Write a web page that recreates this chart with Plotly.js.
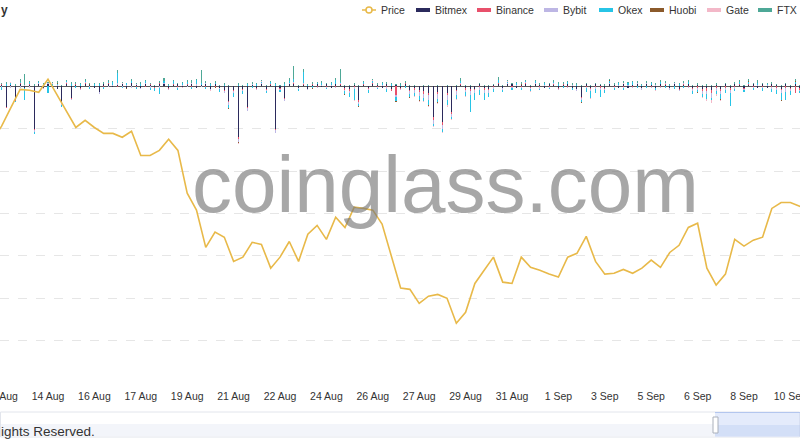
<!DOCTYPE html>
<html><head><meta charset="utf-8">
<script src="https://cdn.plot.ly/plotly-3.0.1.min.js"></script>
<style>html,body{margin:0;padding:0;background:#fff;}#chart{width:800px;height:445px;}</style>
</head><body><div id="chart"></div>
<script>
// ---------- DATA ----------
const priceStart = '2022-08-12 12:00';
const priceStepHours = 8;
const price = [1873,1906,1950,1993,1991,1986,
2017,1978,1939,1903,1920,1903,1889,1889,1880,1894,
1837,1837,1849,1875,1849,1748,1708,1620,1656,1644,
1587,1597,1632,1627,1571,1597,1634,1587,1651,1672,
1639,1691,1667,1715,1712,1708,1675,1601,1524,1521,
1488,1505,1509,1500,1441,1467,1535,1566,1597,1538,
1535,1597,1573,1566,1557,1550,1597,1606,1646,1587,
1557,1559,1568,1559,1571,1590,1573,1608,1625,1667,
1677,1571,1531,1557,1639,1623,1637,1644,1712,1726,
1726,1717,1708];

const barStart = '2022-08-12 20:00';
const barStepHours = 4;
const exchanges = ['Bitmex','Binance','Bybit','Okex','Huobi','Gate','FTX'];
const exchangeColors = ['#2b2a5c','#e8506b','#bdb6e4','#27c4e6','#8b5a2b','#f3b8c8','#4ea897'];

const bitmex = [0.8,-9.9,0.5,-6.6,1.2,-0.8,0.6,-20.2,1.0,-0.6,
0.9,0.4,-1.2,-7.5,1.1,-5.6,0.7,-0.9,1.3,0.5,
-0.7,-2.8,0.9,1.2,-0.5,0.8,1.0,-0.6,1.4,0.6,
-0.8,1.1,0.7,-0.5,1.2,0.9,-1.0,0.6,1.3,-0.4,
0.8,1.1,-0.7,0.5,1.0,-1.2,0.9,-0.8,-1.5,-7.0,
-1.8,-24.0,-1.2,-9.9,0.6,-0.9,1.0,-1.3,0.7,-20.2,
-0.8,-5.6,0.9,1.2,-0.6,0.8,-1.1,0.7,1.0,-0.5,
0.9,-0.8,1.2,0.6,-1.0,-1.4,0.8,-6.6,0.7,-0.9,
1.1,0.6,-0.8,1.0,-1.2,0.7,-0.6,1.2,-1.5,-0.9,
-1.8,-2.2,-3.0,-14.6,-2.5,-17.0,-3.0,-12.2,-1.6,0.8,
-1.0,-1.4,-1.2,0.9,-0.8,-1.3,0.7,1.1,-0.6,0.9,
1.0,-0.7,0.8,1.3,-0.5,0.9,0.6,-0.8,1.0,0.7,
-0.9,0.8,1.2,-0.6,-1.1,-5.2,0.9,-0.7,1.0,0.6,
-0.8,1.1,0.7,-0.9,1.2,-0.6,0.8,1.0,-0.7,0.9,
0.6,-1.0,1.1,0.8,-0.6,0.9,-1.2,0.7,1.0,-0.8,
0.6,-1.3,-1.0,-1.6,0.8,-1.2,0.9,-0.8,1.1,0.7,
-0.9,0.8,1.2,-0.6,0.9,-0.8,1.0,0.7,-1.1,1.2,
-0.8,0.9,-1.0];

const binance = [0.3,-0.4,0.2,-0.3,0.4,-0.2,0.3,-0.5,0.2,-0.3,
0.2,-0.3,0.4,-0.2,0.3,-0.4,0.2,-0.3,0.2,0.3,
-0.2,0.3,-0.4,0.2,0.3,-0.3,0.2,-0.2,0.4,-0.3,
0.3,-0.2,0.2,-0.4,0.3,0.2,-0.3,0.4,-0.2,0.3,
0.2,-0.3,0.4,0.3,-0.2,0.3,-0.4,0.2,-0.5,-0.6,
-0.4,-0.8,-0.3,-0.5,0.2,-0.3,0.3,-0.2,0.2,-0.6,
-0.3,-0.4,0.3,0.4,-0.2,0.3,-0.3,0.2,-0.4,0.3,
-0.2,0.3,-0.3,0.4,-0.5,-0.6,-0.4,-0.7,0.2,-0.3,
0.3,-0.2,0.4,-0.5,-1.0,-4.2,-0.6,0.3,-0.8,-0.9,
-1.0,-1.2,-0.9,-1.4,-1.1,-1.3,-1.0,-0.9,-0.8,0.3,
-0.6,-0.9,-0.7,-0.5,-0.8,-0.6,-0.4,0.3,-0.3,0.2,
-0.3,0.2,-0.2,0.3,-0.3,0.2,-0.4,0.3,-0.2,0.2,
-0.3,0.2,-0.4,0.3,-0.2,-0.5,-0.4,-0.6,-0.5,-0.7,
-0.3,0.2,-0.3,0.2,-0.4,0.3,-0.2,0.2,-0.3,0.3,
-0.2,0.3,-0.3,0.2,-0.4,0.2,-0.3,0.3,-0.2,-0.5,
-0.6,-0.8,-1.0,-1.5,-0.7,-0.9,-0.6,-0.8,-0.4,0.2,
-0.3,0.2,-0.4,0.3,-0.3,0.2,-0.5,-0.6,-0.8,-1.0,
-0.6,-3.0,-0.5];

const bybit = [-0.5,0.4,-0.8,0.3,-0.6,0.5,-0.4,-1.0,0.3,-0.5,
0.4,-0.6,0.3,-0.9,0.5,-0.4,0.3,-0.7,0.4,-0.5,
0.3,-0.6,0.4,-0.5,0.3,0.6,-0.4,0.5,-0.7,0.3,
-0.5,0.4,-0.6,0.3,-0.8,0.5,-0.4,0.3,-0.6,0.4,
-0.5,0.3,0.5,-0.4,0.6,-0.7,0.3,-0.5,-0.9,-1.2,
-1.0,-1.5,-0.8,-1.1,0.4,-0.6,0.3,-0.5,0.4,-1.0,
-0.7,-0.9,0.4,0.5,-0.6,0.3,-0.5,0.4,-0.6,0.3,
-0.4,0.5,-0.5,0.4,-0.7,-0.9,-0.8,-1.0,0.3,-0.6,
0.4,-0.5,0.3,-0.7,0.4,-0.9,-0.6,0.3,-1.2,-1.5,
-1.8,-2.0,-2.5,-1.6,-2.2,-1.8,-2.4,-1.5,-1.9,0.5,
-1.2,-1.6,-1.4,-1.0,-1.5,-1.2,-0.8,0.4,-0.6,0.3,
-0.5,0.4,-0.6,0.3,-0.5,0.4,-0.7,0.3,-0.4,0.5,
-0.6,0.3,-0.5,0.4,-0.7,-0.9,-0.6,-1.0,-0.8,-1.1,
-0.6,0.4,-0.5,0.3,-0.6,0.4,-0.5,0.3,-0.7,0.4,
-0.5,0.3,-0.6,0.4,-0.5,0.3,-0.8,0.4,-0.6,-0.9,
-1.1,-1.4,-1.8,-2.2,-1.3,-1.6,-1.0,-1.4,-0.8,0.4,
-0.6,0.3,-0.5,0.4,-0.7,0.3,-0.6,-0.9,-1.2,-1.5,
-0.8,0.4,-0.6];

const okex = [-1.2,0.6,0.9,-0.5,0.7,-5.2,1.0,-0.8,0.5,1.2,
-3.3,0.8,0.6,-0.9,0.7,1.1,-0.6,0.9,0.5,-0.7,
1.0,0.6,-0.8,0.7,1.3,4.7,-0.6,0.9,0.8,-1.0,
0.7,1.2,-0.9,-1.4,-2.8,0.8,0.6,1.1,-0.7,0.9,
1.3,-0.8,2.0,0.7,-1.0,0.9,0.6,-1.2,0.8,-1.5,
-2.0,0.7,-1.3,0.9,-0.8,1.1,0.6,-0.9,0.8,1.0,
-0.7,1.2,0.9,1.5,-0.6,5.2,0.8,-1.0,0.7,1.1,
-0.8,0.9,1.6,0.7,-1.5,-2.0,-5.2,-1.0,0.8,-1.2,
0.9,-0.7,1.0,-1.4,0.6,-1.8,0.8,-0.9,-1.6,-1.2,
-2.0,-1.5,-2.4,-1.1,-1.8,-1.4,-2.2,-1.0,-1.6,0.9,
-1.8,-8.0,-3.0,-2.5,-3.5,-2.0,-1.4,1.2,-1.0,0.8,
-0.9,1.0,-0.7,0.8,-1.1,0.9,-0.6,1.0,-0.8,0.7,
1.1,-0.9,0.8,-1.2,0.7,-1.0,-1.5,-3.0,-2.0,-3.2,
-1.6,0.9,-0.8,1.0,-0.7,0.8,1.1,-0.9,0.7,-1.0,
0.9,-0.8,1.2,-0.6,0.8,-1.1,0.9,-0.7,1.0,-1.3,
-1.0,-1.5,-2.0,-1.2,-1.8,-2.4,-1.5,-6.1,-1.2,0.8,
-0.9,1.0,-0.7,0.9,-1.2,0.8,-1.6,-2.0,-3.5,-4.0,
-1.8,0.9,-1.2];

const huobi = [0,0.2,0,0,-0.2,0,0,0.3,0,0,
0,0,0.2,0,0,0,-0.2,0,0,0.2,
0,0,0,0.2,0,0,0,-0.3,0,0,
0.2,0,0,0,0,0.2,0,0,-0.2,0,
0,0.2,0,0,0,0,-0.2,0,0,-0.3,
0,-0.4,0,0,0,0.2,0,0,0,-0.3,
0,0,0.2,0,0,0,0,-0.2,0,0,
0.2,0,0,0,-0.2,0,0,-0.3,0,0,
0,0.2,0,0,0,-0.3,0,0,-0.2,0,
-0.3,0,-0.4,0,-0.3,0,-0.4,0,-0.2,0,
0,-0.3,0,-0.2,0,0,0,0.2,0,0,
0,0,0.2,0,0,0,-0.2,0,0,0,
0.2,0,0,0,0,-0.2,0,-0.3,0,0,
0,0.2,0,0,0,0,-0.2,0,0,0.2,
0,0,0,-0.2,0,0,0,0.2,0,0,
-0.2,0,-0.3,0,0,-0.2,0,0,0,0,
0,0.2,0,0,-0.2,0,0,0,-0.3,0,
0,0.2,0];

const gate = [0,0,0.3,0,0,0,-0.3,0,0,0,
0,0.2,0,0,0,-0.2,0,0,0.3,0,
0,0,-0.2,0,0,0,0.2,0,0,0,
0,-0.3,0,0,0.2,0,0,0,0,-0.2,
0,0,0.2,0,0,-0.2,0,0,-0.3,0,
0,-0.3,0,0,0,0,0.2,0,0,0,
-0.2,0,0,0,0,0.2,0,0,0,0,
0,0,0,0.2,0,0,-0.3,0,0,0,
0.2,0,0,0,0,-0.4,0,0,0,-0.3,
-0.5,-0.4,-0.6,-0.3,-0.5,-0.4,-0.6,-0.3,-0.4,0,
-0.3,0,-0.2,0,0,0,0,0,0,0.2,
0,0,0,0,-0.2,0,0,0,0,0,
0,0,0.2,0,0,0,0,-0.3,0,0,
0,0,0,0,0.2,0,0,0,0,0,
0,-0.2,0,0,0,0,0,0,0.2,0,
-0.4,-0.6,-1.0,-1.4,-0.8,-0.5,0,0,0,0,
0,0,0,0.2,0,0,0,-0.3,0,0,
0,0,0];

const ftx = [0.6,1.0,0.4,0.8,1.2,5.2,0.5,0.9,0.7,0.4,
0.8,0.5,1.0,0.6,0.4,0.9,0.7,0.5,0.8,0.6,
0.4,0.9,0.6,0.8,0.5,1.5,0.7,0.4,0.9,0.6,
0.8,0.5,0.7,0.4,0.9,1.2,0.6,0.8,0.5,0.7,
0.9,1.3,0.6,6.1,0.8,0.5,0.7,0.4,0.6,0.5,
0.4,0.8,0.6,0.7,0.9,0.5,0.8,0.6,0.4,0.7,
0.6,0.9,1.2,6.1,0.7,1.4,0.5,0.8,0.6,0.9,
0.7,0.5,1.0,6.1,0.8,0.6,0.9,0.5,0.7,0.4,
0.8,0.6,0.5,0.9,0.7,0.4,0.8,0.6,0.5,0.7,
0.4,0.6,0.5,0.3,0.6,0.4,0.5,0.3,0.7,1.4,
0.5,0.6,0.4,0.7,0.5,0.8,0.6,1.4,0.7,0.5,
0.8,0.6,0.9,0.5,0.7,0.6,0.8,0.4,0.7,0.9,
0.6,0.8,0.5,0.9,0.7,0.6,0.8,0.5,0.7,0.4,
0.9,0.6,0.8,0.5,1.0,0.7,0.6,0.9,0.5,0.8,
0.6,0.9,0.7,1.1,0.5,0.8,0.6,0.9,0.7,0.5,
0.8,0.6,0.9,0.5,0.7,0.4,0.8,0.6,0.9,0.7,
0.5,0.8,0.6,1.0,0.7,0.5,0.9,0.6,0.8,0.5,
0.7,1.1,0.6];

const tickTimes = ['2022-08-12 20:00','2022-08-14 12:00','2022-08-16 04:00','2022-08-17 20:00','2022-08-19 12:00','2022-08-21 04:00','2022-08-22 20:00','2022-08-24 12:00','2022-08-26 04:00','2022-08-27 20:00','2022-08-29 12:00','2022-08-31 04:00','2022-09-01 20:00','2022-09-03 12:00','2022-09-05 04:00','2022-09-06 20:00','2022-09-08 12:00','2022-09-10 04:00'];
const tickLabels = ['12 Aug','14 Aug','16 Aug','17 Aug','19 Aug','21 Aug','22 Aug','24 Aug','26 Aug','27 Aug','29 Aug','31 Aug','1 Sep','3 Sep','5 Sep','6 Sep','8 Sep','10 Sep'];

// ---------- HELPERS ----------
function toMs(s){ return Date.parse(s.replace(' ','T') + ':00Z'); }
function fmt(ms){ return new Date(ms).toISOString().slice(0,19).replace('T',' '); }
function series(start, stepH, n){ const t0 = toMs(start); const out=[]; for(let i=0;i<n;i++) out.push(fmt(t0 + i*stepH*3600e3)); return out; }

const priceTimes = series(priceStart, priceStepHours, price.length);
const barTimes = series(barStart, barStepHours, bitmex.length);
const exchangeData = [bitmex, binance, bybit, okex, huobi, gate, ftx];

// layout geometry
const W = 800, H = 445, PT = 44, PB = 383;
const px = x => x / W;
const py = y => (PB - y) / (PB - PT);
const pxPerHour = 1.16;
const anchorMs = toMs('2022-08-14 12:00'), anchorPx = 48;
const xRange = [fmt(anchorMs - anchorPx/pxPerHour*3600e3), fmt(anchorMs + (W-anchorPx)/pxPerHour*3600e3)];

const FONT = 'Liberation Sans, Arial, Helvetica, sans-serif';
const priceColor = '#e8b949';

const traces = exchanges.map((name, j) => ({
  type: 'bar', name: name, x: barTimes, y: exchangeData[j],
  marker: {color: exchangeColors[j], line: {width: 0}},
  width: 3.2e6, yaxis: 'y', hoverinfo: 'skip', showlegend: false
}));
traces.push({
  type: 'scatter', mode: 'lines', name: 'Price', x: priceTimes, y: price,
  yaxis: 'y2', line: {color: priceColor, width: 1.6}, hoverinfo: 'skip', showlegend: false
});

// manual legend
const legendNames = ['Price'].concat(exchanges);
const legendColors = [priceColor].concat(exchangeColors);
const legendX = [362, 416, 477, 544, 599, 650, 707, 758];
const shapes = [];
const annotations = [];
legendNames.forEach((n, i) => {
  const x = legendX[i];
  if (i === 0) {
    shapes.push({type:'line', xref:'paper', yref:'paper', x0:px(x), x1:px(x+14), y0:py(10), y1:py(10), line:{color:priceColor, width:1.5}});
    shapes.push({type:'circle', xref:'paper', yref:'paper', x0:px(x+4), x1:px(x+10), y0:py(13), y1:py(7), fillcolor:'#fff', line:{color:priceColor, width:1.5}});
  } else {
    shapes.push({type:'rect', xref:'paper', yref:'paper', x0:px(x), x1:px(x+14), y0:py(12), y1:py(8), fillcolor:legendColors[i], line:{width:0}});
  }
  annotations.push({xref:'paper', yref:'paper', x:px(x+17), y:py(10), xanchor:'left', yanchor:'middle', text:n, showarrow:false, font:{family:FONT, size:10.5, color:'#333'}});
});

// visible fragment of the title at the top-left edge
annotations.push({xref:'paper', yref:'paper', x:px(-1), y:py(10), xanchor:'left', yanchor:'middle', text:'<b>y</b>', showarrow:false, font:{family:FONT, size:12, color:'#333'}});

// watermark
annotations.push({xref:'paper', yref:'paper', x:px(445), y:py(184), xanchor:'center', yanchor:'middle', text:'coinglass.com', showarrow:false, font:{family:FONT, size:80, color:'rgba(120,120,120,0.65)'}});

// visible fragment of the copyright line
annotations.push({xref:'paper', yref:'paper', x:px(-1), y:py(431), xanchor:'left', yanchor:'middle', text:'ights Reserved.', showarrow:false, font:{family:FONT, size:13.5, color:'#333'}});

// data zoom slider decoration
shapes.push({type:'rect', xref:'paper', yref:'paper', x0:px(0.5), x1:px(799.5), y0:py(437), y1:py(412), fillcolor:'rgba(0,0,0,0)', line:{color:'#e2e5ec', width:1}, layer:'below'});
shapes.push({type:'rect', xref:'paper', yref:'paper', x0:px(1), x1:px(715), y0:py(436), y1:py(424), fillcolor:'rgba(214,223,240,0.3)', line:{width:0}, layer:'below'});
shapes.push({type:'rect', xref:'paper', yref:'paper', x0:px(715), x1:px(800), y0:py(437), y1:py(412), fillcolor:'rgba(205,218,248,0.55)', line:{width:0}, layer:'below'});
shapes.push({type:'rect', xref:'paper', yref:'paper', x0:px(715), x1:px(800), y0:py(436), y1:py(425), fillcolor:'rgba(180,200,240,0.35)', line:{width:0}, layer:'below'});
shapes.push({type:'line', xref:'paper', yref:'paper', x0:px(715), x1:px(800), y0:py(412.5), y1:py(412.5), line:{color:'#b3c6ee', width:1}});
shapes.push({type:'rect', xref:'paper', yref:'paper', x0:px(713), x1:px(718), y0:py(433), y1:py(417), fillcolor:'#ffffff', line:{color:'#aab0bb', width:1}});

const layout = {
  width: W, height: H, autosize: false,
  margin: {l: 0, r: 0, t: PT, b: H - PB, pad: 0},
  paper_bgcolor: '#fff', plot_bgcolor: '#fff',
  barmode: 'relative', bargap: 0,
  showlegend: false,
  font: {family: FONT, size: 10.5, color: '#333'},
  xaxis: {type: 'date', range: xRange, tickmode: 'array', tickvals: tickTimes, ticktext: tickLabels,
    showgrid: false, zeroline: false, showline: false, ticks: '', ticklen: 0, ticklabelstandoff: 5,
    ticklabeloverflow: 'allow',
    tickfont: {family: FONT, size: 10.5, color: '#333'}, fixedrange: true},
  yaxis: {range: [-140, 20], tick0: 0, dtick: 20, showgrid: true, gridcolor: '#e6e6e6', griddash: 'dash', gridwidth: 1,
    zeroline: true, zerolinecolor: '#5a5a5a', zerolinewidth: 1, showticklabels: false, ticks: '', showline: false, fixedrange: true},
  yaxis2: {range: [1300, 2100], overlaying: 'y', side: 'right', showgrid: false, zeroline: false,
    showticklabels: false, ticks: '', showline: false, fixedrange: true},
  shapes: shapes,
  annotations: annotations
};

Plotly.newPlot('chart', traces, layout, {displayModeBar: false, staticPlot: true});
</script>
</body></html>
